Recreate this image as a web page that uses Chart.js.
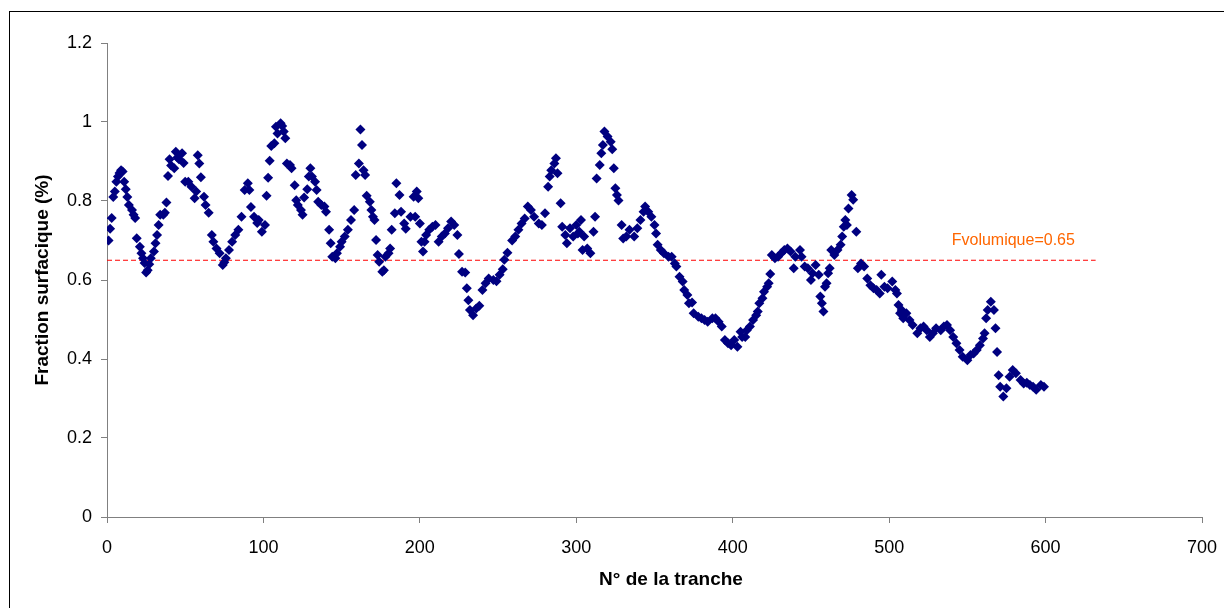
<!DOCTYPE html>
<html>
<head>
<meta charset="utf-8">
<script src="https://cdn.jsdelivr.net/npm/chart.js@4/dist/chart.umd.min.js"></script>
<style>
  body { margin: 0; background: #fff; }
  canvas { display: block; }
</style>
</head>
<body>
<canvas id="tranche-chart" width="1224" height="608"></canvas>
<script>
// N° de la tranche (x) and fraction surfacique (y)
const tranche = [
  1, 2, 3, 4, 5, 6, 7, 8, 9, 10, 11, 12, 13, 14, 16, 17, 18, 19, 21, 22,
  23, 24, 25, 26, 27, 28, 30, 31, 32, 33, 34, 36, 37, 38, 39, 40, 41, 43, 44, 45,
  46, 48, 49, 50, 52, 54, 56, 57, 58, 59, 60, 62, 63, 65, 67, 68, 70, 72, 74, 75,
  76, 78, 80, 82, 84, 86, 88, 90, 91, 92, 94, 96, 97, 99, 101,
  102, 103, 104, 105, 107, 108, 109, 111, 112, 113, 114, 115, 117, 118, 120, 121, 122, 124, 125, 126,
  128, 129, 130, 131, 133, 134, 135, 137, 139, 140, 142, 143, 144, 146, 147, 149, 150, 152, 154, 156,
  158, 159, 161, 162, 163, 164, 165, 166, 168, 169, 170, 171, 172, 173, 174, 176, 177, 178, 180, 181,
  182, 184, 185, 187, 188, 190, 191, 194, 196, 197, 198, 199, 200, 201, 202,
  203, 204, 206, 208, 210, 212, 214, 216, 218, 220, 222, 224, 225, 227, 229, 230, 231, 232, 234, 236,
  238, 240, 242, 244, 247, 249, 251, 253, 254, 256, 259, 261, 263, 265, 267, 269, 271, 273, 276, 278,
  280, 282, 283, 284, 286, 287, 288, 290, 291, 293, 294, 296, 298, 300, 301, 302, 303, 304, 305, 307, 309,
  311, 312, 313, 315, 316, 317, 318, 320, 322, 323, 324, 325, 326, 327, 329, 330, 332, 334, 337, 339,
  341, 343, 344, 346, 348, 350, 351, 352, 354, 356, 359, 361, 363, 364, 366, 368, 369, 371, 372, 374,
  375, 378, 380, 382, 384, 387, 389, 391, 393, 395, 397, 399, 401, 403, 405, 406, 408, 409, 411, 413,
  415, 416, 417, 419, 420, 422, 423, 424, 425, 427, 429, 431, 433, 435, 437, 439, 440, 443, 444, 446,
  448, 450, 451, 453, 455, 456, 457, 458, 459, 460, 461, 462, 463, 465, 467, 469, 470, 471, 472, 473,
  474, 476, 477, 479, 480, 482, 484, 486, 488, 490, 492, 494, 495, 497, 499, 502, 504, 505, 506, 507,
  508, 509, 511, 513, 515, 518, 520, 522, 524, 526, 528, 530, 533, 535, 537, 539, 541, 543, 545, 547,
  550, 552, 554, 556, 558, 560, 561, 562, 563, 565, 567, 568, 569, 570, 571, 573, 575, 577, 579, 581,
  584, 586, 588, 590, 592, 594, 597, 599
];
const fraction = [
  0.70, 0.73, 0.757, 0.81, 0.824, 0.849, 0.862, 0.871, 0.878, 0.875, 0.849, 0.83, 0.81, 0.79, 0.777, 0.765, 0.757, 0.706, 0.684, 0.668,
  0.655, 0.643, 0.619, 0.625, 0.64, 0.655, 0.672, 0.693, 0.714, 0.739, 0.765, 0.765, 0.77, 0.796, 0.863, 0.906, 0.89, 0.883, 0.925, 0.91,
  0.906, 0.921, 0.896, 0.849, 0.849, 0.836, 0.807, 0.824, 0.916, 0.895, 0.86, 0.811, 0.79, 0.77, 0.714, 0.697, 0.68, 0.668, 0.638, 0.645,
  0.655, 0.676, 0.697, 0.714, 0.727, 0.76, 0.828, 0.845, 0.828, 0.785, 0.76, 0.744, 0.752, 0.722, 0.739,
  0.813, 0.859, 0.902, 0.939, 0.946, 0.988, 0.971, 0.997, 0.99, 0.976, 0.959, 0.895, 0.891, 0.883, 0.84, 0.802, 0.79, 0.777, 0.765, 0.809,
  0.83, 0.862, 0.883, 0.862, 0.849, 0.828, 0.798, 0.79, 0.786, 0.773, 0.727, 0.693, 0.659, 0.655, 0.668, 0.684, 0.697, 0.71, 0.727, 0.752,
  0.777, 0.866, 0.895, 0.981, 0.942, 0.878, 0.866, 0.813, 0.798, 0.777, 0.76, 0.752, 0.701, 0.663, 0.646, 0.621, 0.625, 0.659, 0.668, 0.68,
  0.727, 0.769, 0.845, 0.815, 0.773, 0.743, 0.73, 0.76, 0.811, 0.76, 0.824, 0.807, 0.743, 0.697, 0.672,
  0.697, 0.714, 0.727, 0.735, 0.739, 0.697, 0.71, 0.718, 0.731, 0.748, 0.739, 0.714, 0.666, 0.621, 0.619, 0.579, 0.549, 0.524, 0.511, 0.528,
  0.535, 0.575, 0.592, 0.604, 0.60, 0.597, 0.613, 0.627, 0.651, 0.669, 0.70, 0.71, 0.727, 0.743, 0.756, 0.786, 0.777, 0.76, 0.743, 0.739,
  0.769, 0.836, 0.862, 0.878, 0.895, 0.908, 0.87, 0.794, 0.735, 0.714, 0.693, 0.731, 0.71, 0.739, 0.718, 0.722, 0.752, 0.676, 0.71, 0.68, 0.668,
  0.722, 0.76, 0.857, 0.891, 0.921, 0.942, 0.976, 0.963, 0.95, 0.931, 0.883, 0.832, 0.815, 0.801, 0.739, 0.705, 0.71, 0.727, 0.71, 0.731,
  0.752, 0.773, 0.786, 0.773, 0.76, 0.739, 0.718, 0.689, 0.676, 0.668, 0.659, 0.659, 0.642, 0.634, 0.608, 0.596, 0.575, 0.562, 0.541, 0.543,
  0.516, 0.507, 0.503, 0.499, 0.494, 0.503, 0.503, 0.494, 0.482, 0.448, 0.44, 0.435, 0.448, 0.431, 0.469, 0.456, 0.456, 0.473, 0.482, 0.499,
  0.511, 0.52, 0.541, 0.554, 0.57, 0.583, 0.592, 0.615, 0.663, 0.655, 0.659, 0.668, 0.676, 0.68, 0.672, 0.63, 0.659, 0.676, 0.659, 0.634,
  0.63, 0.60, 0.617, 0.638, 0.613, 0.558, 0.541, 0.52, 0.583, 0.592, 0.617, 0.63, 0.676, 0.663, 0.676, 0.689, 0.71, 0.735, 0.752, 0.739,
  0.781, 0.815, 0.803, 0.722, 0.63, 0.642, 0.634, 0.604, 0.587, 0.579, 0.575, 0.566, 0.613, 0.583, 0.579, 0.596, 0.575, 0.566, 0.537, 0.516,
  0.524, 0.503, 0.516, 0.499, 0.486, 0.465, 0.478, 0.482, 0.473, 0.456, 0.465, 0.478, 0.473, 0.482, 0.486, 0.473, 0.456, 0.44, 0.423, 0.406,
  0.397, 0.41, 0.414, 0.423, 0.435, 0.452, 0.465, 0.503, 0.524, 0.545, 0.524, 0.478, 0.418, 0.359, 0.33, 0.305, 0.326, 0.355, 0.372, 0.364,
  0.347, 0.338, 0.34, 0.334, 0.33, 0.322, 0.334, 0.33
];

const fVolumique = 0.65;
const fVolumiqueRange = [0, 632];
const fVolumiqueLabel = 'Fvolumique=0.65';

const xTicks = [0, 100, 200, 300, 400, 500, 600, 700];
const yTicks = [0, 0.2, 0.4, 0.6, 0.8, 1, 1.2];
const xTitle = 'N° de la tranche';
const yTitle = 'Fraction surfacique (%)';

const points = tranche.map((x, i) => ({ x: x, y: fraction[i] }));

const frameAndLabel = {
    id: 'frameAndLabel',
    beforeDraw(chart) {
        let ctx = chart.ctx;
        ctx.save();
        ctx.fillStyle = '#fff';
        ctx.fillRect(0, 0, chart.width, chart.height);
        ctx.strokeStyle = '#000';
        ctx.lineWidth = 1;
        ctx.strokeRect(9.5, 11.5, 1400, 800);
        ctx.restore();
    },
    afterDatasetsDraw(chart) {
        let ctx = chart.ctx;
        let xs = chart.scales.x, ys = chart.scales.y;
        ctx.save();
        ctx.fillStyle = '#FF6600';
        ctx.font = '16px "Liberation Sans", Arial, sans-serif';
        ctx.textBaseline = 'middle';
        ctx.fillText(fVolumiqueLabel, xs.getPixelForValue(540), ys.getPixelForValue(0.70));

        // x axis title sits a bit right of centre in the original
        ctx.fillStyle = '#000';
        ctx.font = 'bold 19px "Liberation Sans", Arial, sans-serif';
        ctx.textAlign = 'center';
        ctx.fillText(xTitle, 671, 580);
        ctx.restore();
    }
};

const tickFont = { size: 18, family: '"Liberation Sans", Arial, sans-serif' };
const titleFont = { size: 19, weight: 'bold', family: '"Liberation Sans", Arial, sans-serif' };

new Chart(document.getElementById('tranche-chart'), {
    type: 'scatter',
    data: {
        datasets: [{
            label: 'Fraction surfacique',
            data: points,
            pointStyle: 'rectRot',
            pointRadius: 5,
            pointBorderWidth: 0,
            backgroundColor: '#000080',
            borderColor: '#000080',
        }, {
            type: 'line',
            label: fVolumiqueLabel,
            data: fVolumiqueRange.map(x => ({ x: x, y: fVolumique })),
            borderColor: '#FF0000',
            borderWidth: 1,
            borderDash: [5, 3],
            pointRadius: 0,
            fill: false,
        }]
    },
    options: {
        responsive: false,
        animation: false,
        layout: { padding: { left: 31, top: 43, right: 22, bottom: 16 } },
        plugins: {
            legend: { display: false },
            tooltip: { enabled: false },
        },
        scales: {
            x: {
                type: 'linear',
                min: 0,
                max: 700,
                afterBuildTicks: scale => { scale.ticks = xTicks.map(v => ({ value: v })); },
                afterFit: scale => {
                    scale.height = 75;
                    scale.paddingLeft = 0;
                    scale.paddingRight = 0;
                },
                grid: {
                    display: true,
                    drawOnChartArea: false,
                    drawTicks: true,
                    tickLength: 6,
                    color: '#808080',
                },
                border: { color: '#808080' },
                ticks: { color: '#000', font: tickFont, padding: 14, maxRotation: 0 },
                title: { display: false },
            },
            y: {
                type: 'linear',
                min: 0,
                max: 1.2,
                afterBuildTicks: scale => { scale.ticks = yTicks.map(v => ({ value: v })); },
                afterFit: scale => {
                    scale.width = 76;
                    scale.paddingTop = 0;
                    scale.paddingBottom = 0;
                },
                grid: {
                    display: true,
                    drawOnChartArea: false,
                    drawTicks: true,
                    tickLength: 6,
                    color: '#808080',
                },
                border: { color: '#808080' },
                ticks: {
                    color: '#000',
                    font: tickFont,
                    padding: 9,
                    callback: v => String(Math.round(v * 10) / 10),
                },
                title: {
                    display: true,
                    text: yTitle,
                    color: '#000',
                    font: titleFont,
                    padding: { top: 0, bottom: 0 },
                },
            },
        },
    },
    plugins: [frameAndLabel],
});
</script>
</body>
</html>
